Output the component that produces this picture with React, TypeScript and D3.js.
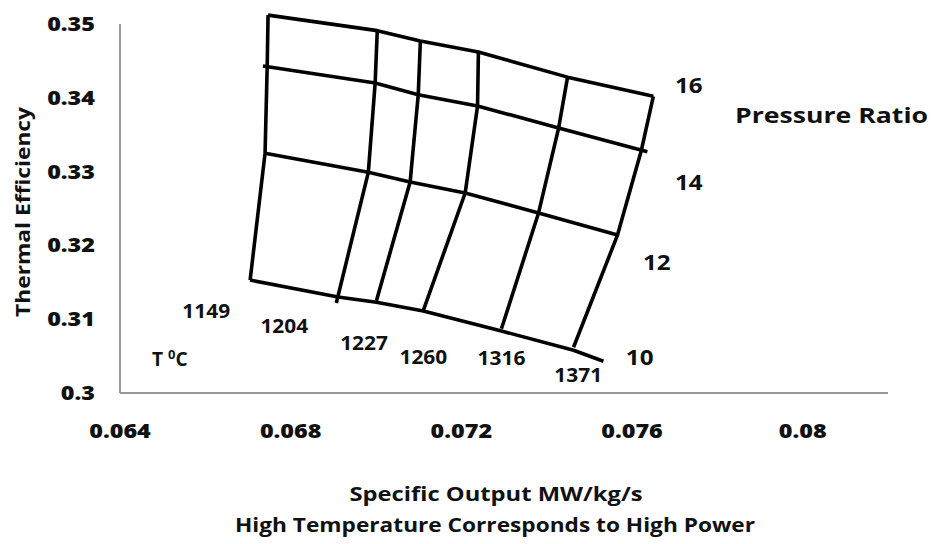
import React from "react";
import * as d3 from "d3";

// Tick values
const xTicks = [0.064, 0.068, 0.072, 0.076, 0.08];
const yTicks = [0.3, 0.31, 0.32, 0.33, 0.34, 0.35];
const xTickLabels = ["0.064", "0.068", "0.072", "0.076", "0.08"];
const yTickLabels = ["0.3", "0.31", "0.32", "0.33", "0.34", "0.35"];

// Constant pressure ratio lines (specific output MW/kg/s, thermal efficiency)
const pressureRatios = ["16", "14", "12", "10"];
const pr16Output = [0.06747, 0.07003, 0.07104, 0.0724, 0.07449, 0.0765];
const pr16Eff = [0.3512, 0.3491, 0.3477, 0.3462, 0.3428, 0.3402];
const pr14Output = [0.06735, 0.06998, 0.07099, 0.07238, 0.07428, 0.07636];
const pr14Eff = [0.3443, 0.342, 0.3404, 0.3389, 0.3359, 0.3327];
const pr12Output = [0.0674, 0.06982, 0.0708, 0.07209, 0.07381, 0.07566];
const pr12Eff = [0.3325, 0.3299, 0.3286, 0.3271, 0.3244, 0.3214];
const pr10Output = [0.06705, 0.06911, 0.07001, 0.07111, 0.07294, 0.07463, 0.07533];
const pr10Eff = [0.3153, 0.313, 0.3123, 0.3111, 0.3084, 0.3058, 0.3043];

// Constant turbine inlet temperature lines (PR 16 -> 10)
const temperatures = ["1149", "1204", "1227", "1260", "1316", "1371"];
const t1149Output = [0.06747, 0.06745, 0.0674, 0.06705];
const t1149Eff = [0.3512, 0.3443, 0.3325, 0.3153];
const t1204Output = [0.07003, 0.06998, 0.06982, 0.06907];
const t1204Eff = [0.3491, 0.342, 0.3299, 0.3122];
const t1227Output = [0.07104, 0.07099, 0.0708, 0.07001];
const t1227Eff = [0.3477, 0.3404, 0.3286, 0.3125];
const t1260Output = [0.0724, 0.07238, 0.07209, 0.07111];
const t1260Eff = [0.3462, 0.3389, 0.3271, 0.3112];
const t1316Output = [0.07449, 0.07428, 0.07381, 0.07294];
const t1316Eff = [0.3428, 0.3359, 0.3244, 0.3087];
const t1371Output = [0.0765, 0.07622, 0.07566, 0.07463];
const t1371Eff = [0.3402, 0.3329, 0.3214, 0.3062];

const prSeries = [
  { xs: pr16Output, ys: pr16Eff },
  { xs: pr14Output, ys: pr14Eff },
  { xs: pr12Output, ys: pr12Eff },
  { xs: pr10Output, ys: pr10Eff },
];
const tSeries = [
  { xs: t1149Output, ys: t1149Eff },
  { xs: t1204Output, ys: t1204Eff },
  { xs: t1227Output, ys: t1227Eff },
  { xs: t1260Output, ys: t1260Eff },
  { xs: t1316Output, ys: t1316Eff },
  { xs: t1371Output, ys: t1371Eff },
];

// label anchor positions in data units
const prLabelPos = [
  [0.07733, 0.3407],
  [0.07733, 0.3275],
  [0.07658, 0.3167],
  [0.07618, 0.3038],
];
const tLabelPos = [
  [0.06602, 0.3102],
  [0.06785, 0.3081],
  [0.06972, 0.3058],
  [0.07111, 0.3039],
  [0.07294, 0.3038],
  [0.07474, 0.3015],
];

const W = 934;
const H = 544;
const FONT = "'Open Sans', sans-serif";

export default function App() {
  const x = d3.scaleLinear().domain([0.064, 0.082]).range([120, 888]);
  const y = d3.scaleLinear().domain([0.3, 0.35]).range([393, 24]);
  const line = (xs: number[], ys: number[]) =>
    d3
      .line<number>()
      .x((_, i) => x(xs[i]))
      .y((_, i) => y(ys[i]))
      .curve(d3.curveLinear)(xs) as string;

  return (
    <svg
      width={W}
      height={H}
      style={{ position: "absolute", left: 0, top: 0, background: "#fff" }}
      fontFamily={FONT}
    >
      <rect width={W} height={H} fill="#fff" />
      {/* axes */}
      <line x1={x(0.064)} x2={x(0.064)} y1={y(0.35)} y2={y(0.3)} stroke="#9a9a9a" strokeWidth={2} />
      <line x1={x(0.064)} x2={x(0.082)} y1={y(0.3)} y2={y(0.3)} stroke="#9a9a9a" strokeWidth={2} />

      {yTicks.map((v, i) => (
        <text
          key={"y" + i}
          transform={`translate(95,${y(v) + 7}) scale(1.17,1)`}
          textAnchor="end"
          fontSize={20}
          fontWeight={800}
          fill="#111"
        >
          {yTickLabels[i]}
        </text>
      ))}
      {xTicks.map((v, i) => (
        <text
          key={"x" + i}
          transform={`translate(${x(v)},438) scale(1.17,1)`}
          textAnchor="middle"
          fontSize={20}
          fontWeight={800}
          fill="#111"
        >
          {xTickLabels[i]}
        </text>
      ))}

      {/* grid lines */}
      {prSeries.map((s, i) => (
        <path key={"pr" + i} d={line(s.xs, s.ys)} fill="none" stroke="#000" strokeWidth={3.6} strokeLinejoin="round" />
      ))}
      {tSeries.map((s, i) => (
        <path key={"t" + i} d={line(s.xs, s.ys)} fill="none" stroke="#000" strokeWidth={3.6} strokeLinejoin="round" />
      ))}

      {/* pressure ratio labels */}
      {pressureRatios.map((p, i) => (
        <text
          key={"prl" + i}
          transform={`translate(${x(prLabelPos[i][0])},${y(prLabelPos[i][1])}) scale(1.1,1)`}
          textAnchor="middle"
          fontSize={22}
          fontWeight={700}
          fill="#111"
        >
          {p}
        </text>
      ))}
      <text x={735} y={123} fontSize={22} fontWeight={700} fill="#111" textLength={193} lengthAdjust="spacingAndGlyphs">
        Pressure Ratio
      </text>

      {/* temperature labels */}
      {temperatures.map((t, i) => (
        <text
          key={"tl" + i}
          transform={`translate(${x(tLabelPos[i][0])},${y(tLabelPos[i][1])}) scale(1.1,1)`}
          textAnchor="middle"
          fontSize={19}
          fontWeight={700}
          fill="#111"
        >
          {t}
        </text>
      ))}
      <text x={152} y={366} fontSize={19} fontWeight={700} fill="#111">
        T
        <tspan dx={5} dy={-7} fontSize={13}>0</tspan>
        <tspan dy={7}>C</tspan>
      </text>

      {/* axis titles */}
      <text
        transform="translate(30,212) rotate(-90)"
        textAnchor="middle"
        fontSize={19}
        fontWeight={700}
        fill="#111"
        textLength={210}
        lengthAdjust="spacingAndGlyphs"
      >
        Thermal Efficiency
      </text>
      <text x={496} y={501} textAnchor="middle" fontSize={19} fontWeight={700} fill="#111" textLength={293} lengthAdjust="spacingAndGlyphs">
        Specific Output MW/kg/s
      </text>
      <text x={495} y={532} textAnchor="middle" fontSize={19} fontWeight={700} fill="#111" textLength={520} lengthAdjust="spacingAndGlyphs">
        High Temperature Corresponds to High Power
      </text>
    </svg>
  );
}
